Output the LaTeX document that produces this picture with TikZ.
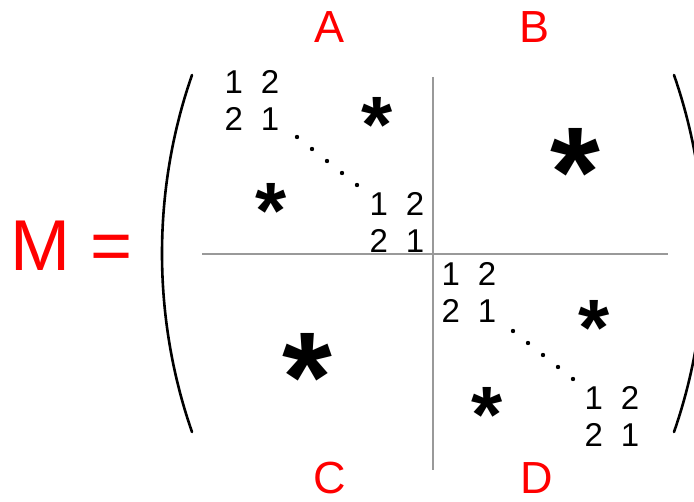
\documentclass[tikz,border=0pt]{standalone}
\usepackage{fontspec}
\setmainfont{Liberation Sans}
\begin{document}
\begin{tikzpicture}[x=1pt,y=-1pt,
  lbl/.style={text=red, font=\fontsize{45}{54}\selectfont, inner sep=0},
  blk/.style={font=\fontsize{33}{37}\selectfont, align=center, inner sep=0},
  sstar/.style={font=\fontsize{80}{90}\selectfont\bfseries, inner sep=0, anchor=north},
  bstar/.style={font=\fontsize{128}{140}\selectfont\bfseries, inner sep=0, anchor=north},
  sepline/.style={draw=black!40, line width=1.3pt},
  paren/.style={line width=2.6pt, line cap=round},
  dotmark/.style={fill=black}]
\useasboundingbox (0,0) rectangle (694,502);
\clip (0,0) rectangle (694,502);
% equation label
\node[text=red, font=\fontsize{72}{80}\selectfont, inner sep=0, anchor=west] (M) at (10,246) {M =};
% block labels
\node[lbl] (A) at (330,27) {A};
\node[lbl] (B) at (535,27) {B};
\node[lbl] (C) at (330,478) {C};
\node[lbl] (D) at (537,478) {D};
% separators
\draw[sepline] (433,77) -- (433,470);
\draw[sepline] (202,254) -- (668,254);
% parentheses
\draw[paren] (192,75) .. controls (152,190) and (152,317) .. (192,432);
\draw[paren] (674,75) .. controls (714,190) and (714,317) .. (674,432);
% digit blocks
\node[blk] (a1) at (252,100) {1\hspace{18pt}2\\2\hspace{18pt}1};
\node[blk] (a2) at (397,222) {1\hspace{18pt}2\\2\hspace{18pt}1};
\node[blk] (d1) at (469,292) {1\hspace{18pt}2\\2\hspace{18pt}1};
\node[blk] (d2) at (612,416) {1\hspace{18pt}2\\2\hspace{18pt}1};
% dots
\foreach \i in {0,...,4} {
  \fill[dotmark] ({297+15*\i},{137+12*\i}) circle (2.2pt);
  \fill[dotmark] ({513+15*\i},{331+12*\i}) circle (2.2pt);
}
% stars
\node[sstar] (s1) at (377,97) {*};
\node[sstar] (s2) at (271,183) {*};
\node[bstar] (s3) at (575,128) {*};
\node[bstar] (s4) at (307,333) {*};
\node[sstar] (s5) at (594,300) {*};
\node[sstar] (s6) at (487,387) {*};
\end{tikzpicture}
\end{document}
